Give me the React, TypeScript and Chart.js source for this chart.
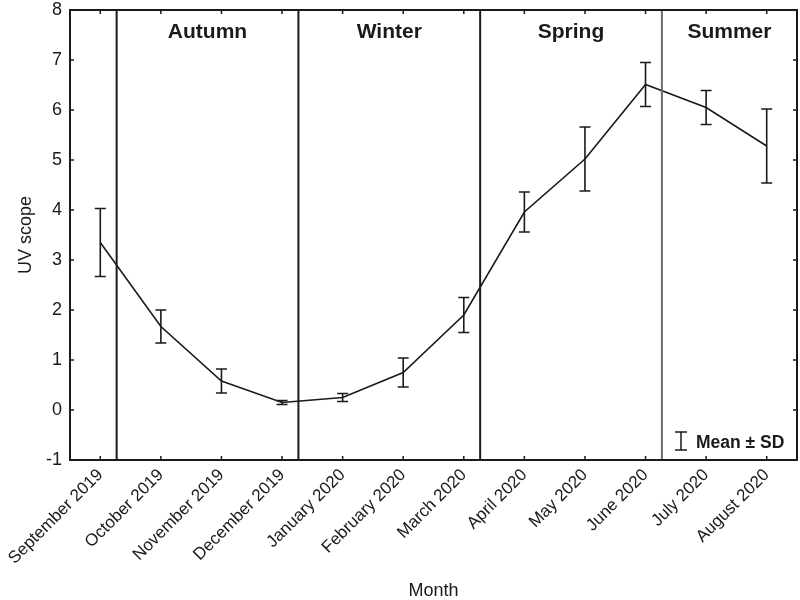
import React, { useEffect, useRef } from "react";
import { Chart, registerables } from "chart.js";

Chart.register(...registerables);

const months = [
  "September 2019",
  "October 2019",
  "November 2019",
  "December 2019",
  "January 2020",
  "February 2020",
  "March 2020",
  "April 2020",
  "May 2020",
  "June 2020",
  "July 2020",
  "August 2020",
];
const means = [3.35, 1.67, 0.58, 0.15, 0.25, 0.75, 1.9, 3.96, 5.02, 6.51, 6.05, 5.28];
const sds = [0.68, 0.33, 0.24, 0.04, 0.08, 0.29, 0.35, 0.4, 0.64, 0.44, 0.34, 0.74];
const seasons = ["Autumn", "Winter", "Spring", "Summer"];
// category-index positions where each season begins
const seasonStarts = [0.27, 3.27, 6.27, 9.27];
const yMin = -1;
const yMax = 8;
const legendText = "Mean ± SD";
const xTitle = "Month";
const yTitle = "UV scope";

const FONT = "'Liberation Sans', Arial, sans-serif";
const INK = "#1a1a1a";

const overlay = {
  id: "overlay",
  afterDatasetsDraw(chart: any) {
    const { ctx, chartArea: a, scales } = chart;
    const x = scales.x;
    const y = scales.y;
    ctx.save();

    // error bars
    ctx.strokeStyle = INK;
    ctx.lineWidth = 1.6;
    means.forEach((m, i) => {
      const px = x.getPixelForValue(i);
      const t = y.getPixelForValue(m + sds[i]);
      const b = y.getPixelForValue(m - sds[i]);
      ctx.beginPath();
      ctx.moveTo(px, t);
      ctx.lineTo(px, b);
      ctx.moveTo(px - 5.5, t);
      ctx.lineTo(px + 5.5, t);
      ctx.moveTo(px - 5.5, b);
      ctx.lineTo(px + 5.5, b);
      ctx.stroke();
    });

    // season dividers
    const divX = seasonStarts.map((s) => x.getPixelForValue(s));
    divX.forEach((px, i) => {
      ctx.beginPath();
      ctx.strokeStyle = i === divX.length - 1 ? "#6e6e6e" : INK;
      ctx.lineWidth = 2;
      ctx.moveTo(px, a.top);
      ctx.lineTo(px, a.bottom);
      ctx.stroke();
    });

    // season labels
    ctx.fillStyle = INK;
    ctx.font = `bold 21px ${FONT}`;
    ctx.textAlign = "center";
    ctx.textBaseline = "alphabetic";
    seasons.forEach((s, i) => {
      const l = divX[i];
      const r = i + 1 < divX.length ? divX[i + 1] : a.right;
      ctx.fillText(s, (l + r) / 2, a.top + 28);
    });

    // frame
    ctx.strokeStyle = INK;
    ctx.lineWidth = 2;
    ctx.strokeRect(a.left, a.top, a.right - a.left, a.bottom - a.top);

    // inside ticks on all four sides
    ctx.lineWidth = 1.5;
    ctx.beginPath();
    x.ticks.forEach((_: any, i: number) => {
      const px = x.getPixelForTick(i);
      ctx.moveTo(px, a.bottom);
      ctx.lineTo(px, a.bottom - 4);
      ctx.moveTo(px, a.top);
      ctx.lineTo(px, a.top + 4);
    });
    y.ticks.forEach((t: any) => {
      const py = y.getPixelForValue(t.value);
      ctx.moveTo(a.left, py);
      ctx.lineTo(a.left + 4, py);
      ctx.moveTo(a.right, py);
      ctx.lineTo(a.right - 4, py);
    });
    ctx.stroke();

    // legend
    const lx = a.right - 116;
    const ly = a.bottom - 19;
    ctx.lineWidth = 1.5;
    ctx.beginPath();
    ctx.moveTo(lx, ly - 9);
    ctx.lineTo(lx, ly + 9);
    ctx.moveTo(lx - 6, ly - 9);
    ctx.lineTo(lx + 6, ly - 9);
    ctx.moveTo(lx - 6, ly + 9);
    ctx.lineTo(lx + 6, ly + 9);
    ctx.stroke();
    ctx.font = `bold 17.5px ${FONT}`;
    ctx.textAlign = "left";
    ctx.textBaseline = "alphabetic";
    ctx.fillText(legendText, lx + 15, ly + 7);

    ctx.restore();
  },
};

export default function App() {
  const ref = useRef<HTMLCanvasElement | null>(null);

  useEffect(() => {
    if (!ref.current) return;
    const chart = new Chart(ref.current, {
      type: "line",
      data: {
        labels: months,
        datasets: [
          {
            data: means,
            borderColor: INK,
            borderWidth: 1.6,
            pointRadius: 0,
            tension: 0,
            fill: false,
          },
        ],
      },
      options: {
        responsive: false,
        animation: false,
        devicePixelRatio: 1,
        layout: { padding: { left: 0, right: 3, top: 10, bottom: 0 } },
        plugins: {
          legend: { display: false },
          tooltip: { enabled: false },
        },
        scales: {
          x: {
            type: "category",
            offset: true,
            grid: { display: false, drawTicks: false },
            border: { display: false },
            ticks: {
              color: INK,
              font: { family: FONT, size: 17 },
              maxRotation: 45,
              minRotation: 45,
              padding: 5,
              autoSkip: false,
            },
            title: {
              display: true,
              text: xTitle,
              color: INK,
              font: { family: FONT, size: 18 },
              padding: { top: 0, bottom: -2 },
            },
            afterFit(s: any) {
              s.height = 140;
              s.paddingLeft = 0;
              s.paddingRight = 0;
            },
          },
          y: {
            type: "linear",
            min: yMin,
            max: yMax,
            grid: { display: false, drawTicks: false },
            border: { display: false },
            ticks: {
              stepSize: 1,
              color: INK,
              font: { family: FONT, size: 18 },
              padding: 8,
            },
            title: {
              display: true,
              text: yTitle,
              color: INK,
              font: { family: FONT, size: 18 },
              padding: { top: 15, bottom: 0 },
            },
            afterFit(s: any) {
              s.width = 70;
              s.paddingTop = 0;
              s.paddingBottom = 0;
            },
          },
        },
      },
      plugins: [overlay],
    });
    return () => chart.destroy();
  }, []);

  return (
    <div style={{ position: "fixed", left: 0, top: 0, width: 800, height: 600, background: "#fff" }}>
      <canvas ref={ref} width={800} height={600} />
    </div>
  );
}
